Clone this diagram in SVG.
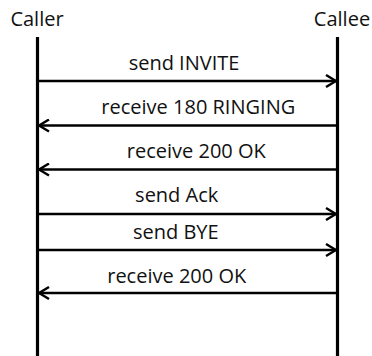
<svg xmlns="http://www.w3.org/2000/svg" width="372" height="356" viewBox="0 0 372 356">
  <style>
    .lbl { font-family: "Open Sans", "Liberation Sans", sans-serif; font-size: 20px; fill: #111; }
    .life { stroke: #000; stroke-width: 3.2; fill: none; }
    .msg { stroke: #000; stroke-width: 2.4; fill: none; }
  </style>
  <defs>
    <marker id="head" viewBox="0 0 12 14" refX="11" refY="7" markerWidth="12" markerHeight="14" markerUnits="userSpaceOnUse" orient="auto">
      <polyline points="1,1 11,7 1,13" fill="none" stroke="#000" stroke-width="2.4"/>
    </marker>
  </defs>
  <rect width="372" height="356" fill="#fff"/>

  <g id="caller">
    <text class="lbl" x="37" y="25.5" text-anchor="middle">Caller</text>
    <line class="life" x1="37.5" y1="37" x2="37.5" y2="356"/>
  </g>
  <g id="callee">
    <text class="lbl" x="342" y="25.5" text-anchor="middle">Callee</text>
    <line class="life" x1="337.5" y1="37" x2="337.5" y2="356"/>
  </g>

  <g id="messages">
    <line class="msg" x1="39" y1="81" x2="336" y2="81" marker-end="url(#head)"/>
    <text class="lbl" x="184" y="70" text-anchor="middle">send INVITE</text>

    <line class="msg" x1="336" y1="125.5" x2="39" y2="125.5" marker-end="url(#head)"/>
    <text class="lbl" x="198.3" y="114.3" text-anchor="middle">receive 180 RINGING</text>

    <line class="msg" x1="336" y1="169.5" x2="39" y2="169.5" marker-end="url(#head)"/>
    <text class="lbl" x="196.3" y="158.3" text-anchor="middle">receive 200 OK</text>

    <line class="msg" x1="39" y1="214" x2="336" y2="214" marker-end="url(#head)"/>
    <text class="lbl" x="176.7" y="202.3" text-anchor="middle">send Ack</text>

    <line class="msg" x1="39" y1="250" x2="336" y2="250" marker-end="url(#head)"/>
    <text class="lbl" x="175.8" y="239.3" text-anchor="middle">send BYE</text>

    <line class="msg" x1="336" y1="293" x2="39" y2="293" marker-end="url(#head)"/>
    <text class="lbl" x="176.7" y="282.7" text-anchor="middle">receive 200 OK</text>
  </g>
</svg>
